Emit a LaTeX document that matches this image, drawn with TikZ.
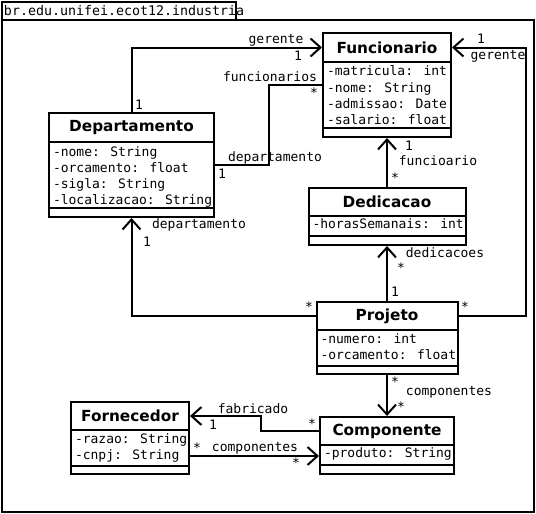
\documentclass[tikz,border=0pt]{standalone}
\usepackage{fontspec}
\setmainfont{DejaVu Sans}
\newfontfamily\umlmono{DejaVu Sans Mono}
\usetikzlibrary{arrows.meta}

\begin{document}
\begin{tikzpicture}[x=1pt,y=1pt,yscale=-1,xscale=1,
  line width=2pt,
  >={Straight Barb[length=10pt,width=18pt]},
  classbox/.style={draw,rectangle,inner sep=0pt},
  classname/.style={font=\fontsize{15.3}{18}\selectfont\bfseries,inner sep=0pt},
  attrs/.style={font=\fontsize{13}{16.2}\selectfont\umlmono,align=left,anchor=north west,inner sep=1pt},
  lbl/.style={font=\fontsize{13}{15}\selectfont\umlmono,inner sep=0pt}]
  \useasboundingbox (0,0) rectangle (536,514);

  % package frame
  \draw (2,20) rectangle (534,512);
  \draw (2,2) rectangle (236,20);
  \node[lbl,anchor=west,font=\fontsize{13.3}{15}\selectfont\umlmono] (pkg) at (3,11) {br.edu.unifei.ecot12.industria};

  % Funcionario
  \node[classbox,minimum width=128pt,minimum height=104pt] (func) at (387,85) {};
  \node[classname] (funcT) at (387,47.5) {Funcionario};
  \draw (323,62) -- (451,62);
  \draw (323,128) -- (451,128);
  \node[attrs] (funcA) at (325,64) {-matricula: int\\-nome: String\\-admissao: Date\\-salario: float};

  % Departamento
  \node[classbox,minimum width=165pt,minimum height=104pt] (dept) at (131.5,165) {};
  \node[classname] (deptT) at (131.5,127.5) {Departamento};
  \draw (49,142) -- (214,142);
  \draw (49,208) -- (214,208);
  \node[attrs] (deptA) at (51,144.5) {-nome: String\\-orcamento: float\\-sigla: String\\-localizacao: String};

  % Dedicacao
  \node[classbox,minimum width=157pt,minimum height=57pt] (ded) at (387,216.5) {};
  \node[classname] (dedT) at (387,202) {Dedicacao};
  \draw (308.5,216) -- (465.5,216);
  \draw (308.5,236) -- (465.5,236);
  \node[attrs] (dedA) at (310.5,217) {-horasSemanais: int};

  % Projeto
  \node[classbox,minimum width=141pt,minimum height=72pt] (proj) at (387,338) {};
  \node[classname] (projT) at (387,316) {Projeto};
  \draw (316.5,330) -- (457.5,330);
  \draw (316.5,366) -- (457.5,366);
  \node[attrs] (projA) at (318.5,331.5) {-numero: int\\-orcamento: float};

  % Fornecedor
  \node[classbox,minimum width=118pt,minimum height=72pt] (forn) at (130,438) {};
  \node[classname] (fornT) at (130,416) {Fornecedor};
  \draw (71,430) -- (189,430);
  \draw (71,466) -- (189,466);
  \node[attrs] (fornA) at (73,431.5) {-razao: String\\-cnpj: String};

  % Componente
  \node[classbox,minimum width=134pt,minimum height=57pt] (comp) at (387,445.5) {};
  \node[classname] (compT) at (387,431) {Componente};
  \draw (320,445) -- (454,445);
  \draw (320,465) -- (454,465);
  \node[attrs] (compA) at (322,446) {-produto: String};
  \coordinate (compR) at (387,456);

  % associacoes
  \draw[->] (dept.north) |- (func.west |- funcT);
  \draw (dept.east) -- ++(54,0) |- (func.west);
  \draw[<-] (func.east |- funcT) -- ++(74,0) |- (proj.east |- projT);
  \draw[->] (ded.north) -- (func.south);
  \draw[->] (proj.north) -- (ded.south);
  \draw[->] (proj.west |- projT) -| (dept.south);
  \draw[->] (proj.south) -- (comp.north);
  \draw[->] (comp.west |- compT) -- ++(-58,0) |- (forn.east |- fornT);
  \draw[->] (forn.east |- compR) -- (comp.west |- compR);

  % papeis e multiplicidades
  \node[lbl] (l1) at (276,40) {gerente};
  \node[lbl] (l2) at (298,56) {1};
  \node[lbl] (l3) at (139,105) {1};
  \node[lbl] (l4) at (270,77) {funcionarios};
  \node[lbl] (l5) at (314,93) {*};
  \node[lbl] (l6) at (275,158) {departamento};
  \node[lbl] (l7) at (222,174) {1};
  \node[lbl] (l8) at (481,39) {1};
  \node[lbl] (l9) at (498,56) {gerente};
  \node[lbl] (l10) at (409,146) {1};
  \node[lbl] (l11) at (438,161) {funcioario};
  \node[lbl] (l12) at (395,178) {*};
  \node[lbl] (l13) at (445,253) {dedicacoes};
  \node[lbl] (l14) at (401,268) {*};
  \node[lbl] (l15) at (395,292) {1};
  \node[lbl] (l16) at (199,225) {departamento};
  \node[lbl] (l17) at (147,242) {1};
  \node[lbl] (l18) at (309,307) {*};
  \node[lbl] (l19) at (465,307) {*};
  \node[lbl] (l20) at (395,382) {*};
  \node[lbl] (l21) at (449,392) {componentes};
  \node[lbl] (l22) at (401,407) {*};
  \node[lbl] (l23) at (253,409) {fabricado};
  \node[lbl] (l24) at (213,425) {1};
  \node[lbl] (l25) at (312,424) {*};
  \node[lbl] (l26) at (197,448) {*};
  \node[lbl] (l27) at (255,448) {componentes};
  \node[lbl] (l28) at (296,463) {*};
\end{tikzpicture}
\end{document}
